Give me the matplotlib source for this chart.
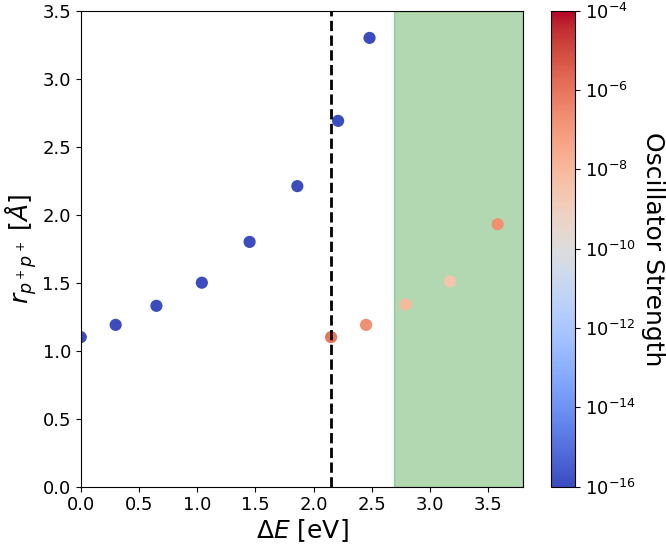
import numpy as np
import matplotlib
matplotlib.use("Agg")
import matplotlib.pyplot as plt
from matplotlib.colors import LogNorm

# excitation energies [eV] and p+-p+ distances [A]
delta_e = [0.0, 0.30, 0.65, 1.04, 1.45, 1.86, 2.21, 2.48,
           2.15, 2.45, 2.79, 3.17, 3.58]
r_pp = [1.10, 1.19, 1.33, 1.50, 1.80, 2.21, 2.69, 3.30,
        1.10, 1.19, 1.34, 1.51, 1.93]
osc_strength = [1e-17, 1e-17, 1e-17, 1e-17, 1e-17, 1e-17, 1e-17, 1e-17,
                1e-6, 2e-7, 1e-8, 3e-9, 2e-7]

vline_x = 2.15
window_start = 2.69
xmax = 3.8

plt.rcParams['font.size'] = 13

fig = plt.figure(figsize=(6.66, 5.46), dpi=100)
ax = fig.add_axes([0.1212, 0.1086, 0.6645, 0.8718])
cax = fig.add_axes([0.8269, 0.1086, 0.0365, 0.8718])

ax.axvspan(window_start, xmax, color='green', alpha=0.3, zorder=0)
sc = ax.scatter(delta_e, r_pp, c=osc_strength, cmap='coolwarm',
                norm=LogNorm(vmin=1e-16, vmax=1e-4), s=60, zorder=2)
ax.axvline(vline_x, color='k', linestyle='--', linewidth=2, zorder=3)

ax.set_xlim(0, xmax)
ax.set_ylim(0, 3.5)
ax.set_xticks(np.arange(0, 4.0, 0.5))
ax.set_yticks(np.arange(0, 3.6, 0.5))
ax.set_xlabel(r'$\Delta E$ [eV]', fontsize=18, labelpad=2)
ax.set_ylabel(r'$r_{p^+p^+}$ [$\AA$]', fontsize=18, labelpad=2)

cb = fig.colorbar(sc, cax=cax)
cb.set_label('Oscillator Strength', rotation=270, labelpad=21, fontsize=18)
cb.set_ticks([1e-16, 1e-14, 1e-12, 1e-10, 1e-8, 1e-6, 1e-4])
cb.ax.minorticks_off()

fig.savefig('out.png', dpi=100)
